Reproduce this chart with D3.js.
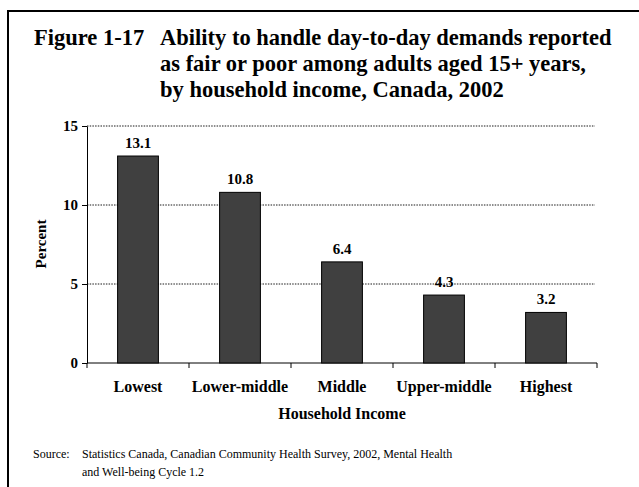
<!DOCTYPE html>
<html>
<head>
<meta charset="utf-8">
<script src="https://cdn.jsdelivr.net/npm/d3@7"></script>
<style>
  body { margin: 0; background: #fff; }
  svg { display: block; font-family: "Liberation Serif", "Times New Roman", serif; }
  .axis path, .axis line { stroke: #000; }
  .grid line { stroke: #000; stroke-dasharray: 1.5 1.2; stroke-width: 0.9; }
  .bar { fill: #404040; stroke: #000; stroke-width: 1; }
</style>
</head>
<body>
<div id="chart"></div>
<script>
// data
var categories = ["Lowest", "Lower-middle", "Middle", "Upper-middle", "Highest"];
var values = [13.1, 10.8, 6.4, 4.3, 3.2];
var yTicks = [0, 5, 10, 15];
var titleLines = [
  "Ability to handle day-to-day demands reported",
  "as fair or poor among adults aged 15+ years,",
  "by household income, Canada, 2002"
];
var sourceLines = [
  "Statistics Canada, Canadian Community Health Survey, 2002, Mental Health",
  "and Well-being Cycle 1.2"
];

var width = 639, height = 487;
var margin = {top: 126, right: 42, bottom: 124, left: 87};
var chartWidth = width - margin.left - margin.right;
var chartHeight = height - margin.top - margin.bottom;

var svg = d3.select("#chart").append("svg")
    .attr("width", width)
    .attr("height", height);

// frame (only top and left edges show in the picture)
svg.append("path")
    .attr("d", "M8,487 L8,11 L639,11")
    .attr("fill", "none")
    .attr("stroke", "#000")
    .attr("stroke-width", 2);

// title
var title = svg.append("text")
    .attr("font-size", "22.5px")
    .attr("font-weight", "bold");
title.append("tspan").attr("x", 34).attr("y", 45).text("Figure 1-17");
titleLines.forEach(function(t, i) {
  title.append("tspan").attr("x", 160).attr("y", 45 + i * 26).text(t);
});

var g = svg.append("g")
    .attr("transform", `translate(${margin.left}, ${margin.top})`);

var xScale = d3.scaleBand()
    .domain(categories)
    .range([0, chartWidth])
    .paddingInner(0.6)
    .paddingOuter(0.3);

var yScale = d3.scaleLinear()
    .domain([0, 15])
    .range([chartHeight, 0]);

// dotted gridlines
g.append("g")
    .attr("class", "grid")
    .selectAll("line")
    .data(yTicks.filter(d => d > 0))
    .enter().append("line")
    .attr("x1", 0)
    .attr("x2", chartWidth - 2)
    .attr("y1", d => yScale(d))
    .attr("y2", d => yScale(d));

var yAxis = d3.axisLeft(yScale)
    .tickValues(yTicks)
    .tickSize(5)
    .tickPadding(4)
    .tickSizeOuter(0);

g.append("g")
    .attr("class", "y axis")
    .call(yAxis)
    .selectAll("text")
        .attr("font-size", "15px")
        .attr("font-weight", "bold")
        .attr("font-family", "Liberation Serif, serif")
        .attr("fill", "#000");

// x axis: ticks between categories
var step = xScale.step();
var xBounds = d3.range(categories.length + 1).map(i => i * step);

g.append("line")
    .attr("x1", 0).attr("x2", chartWidth)
    .attr("y1", chartHeight).attr("y2", chartHeight)
    .attr("stroke", "#000");

g.selectAll(".xtick")
    .data(xBounds)
    .enter().append("line")
    .attr("class", "xtick")
    .attr("x1", d => d).attr("x2", d => d)
    .attr("y1", chartHeight).attr("y2", chartHeight + 5)
    .attr("stroke", "#000");

g.selectAll(".xlabel")
    .data(categories)
    .enter().append("text")
    .attr("class", "xlabel")
    .attr("x", d => xScale(d) + xScale.bandwidth() / 2)
    .attr("y", chartHeight + 29)
    .attr("text-anchor", "middle")
    .attr("font-size", "16px")
    .attr("font-weight", "bold")
    .text(d => d);

var data = categories.map((c, i) => ({cat: c, value: values[i]}));

g.selectAll(".bar")
    .data(data)
    .enter().append("rect")
    .attr("class", "bar")
    .attr("x", d => xScale(d.cat))
    .attr("y", d => yScale(d.value))
    .attr("width", xScale.bandwidth())
    .attr("height", d => chartHeight - yScale(d.value));

g.selectAll(".vlabel")
    .data(data)
    .enter().append("text")
    .attr("class", "vlabel")
    .attr("x", d => xScale(d.cat) + xScale.bandwidth() / 2)
    .attr("y", d => yScale(d.value) - 8)
    .attr("text-anchor", "middle")
    .attr("font-size", "15px")
    .attr("font-weight", "bold")
    .text(d => d.value.toFixed(1));

// axis titles
svg.append("text")
    .attr("transform", "translate(46, 244) rotate(-90)")
    .attr("text-anchor", "middle")
    .attr("font-size", "15px")
    .attr("font-weight", "bold")
    .text("Percent");

svg.append("text")
    .attr("x", margin.left + chartWidth / 2)
    .attr("y", 419)
    .attr("text-anchor", "middle")
    .attr("font-size", "16px")
    .attr("font-weight", "bold")
    .text("Household Income");

// source note
svg.append("text")
    .attr("x", 33).attr("y", 458)
    .attr("font-size", "12px")
    .text("Source:");
sourceLines.forEach(function(t, i) {
  svg.append("text")
      .attr("x", 82).attr("y", 458 + i * 18)
      .attr("font-size", "12px")
      .text(t);
});
</script>
</body>
</html>
